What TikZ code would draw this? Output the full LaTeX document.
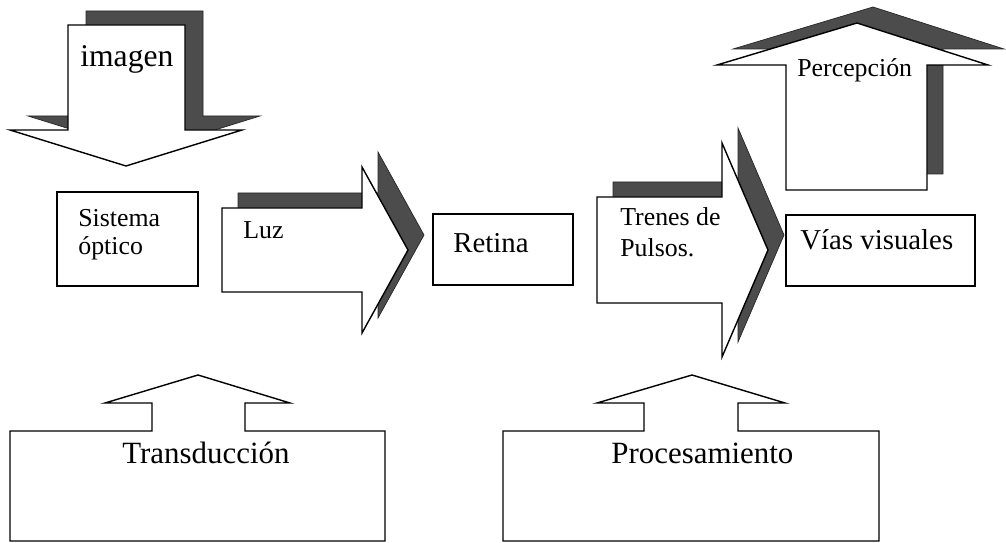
\documentclass[tikz,border=0pt]{standalone}
\usepackage{fontspec}
\setmainfont{Liberation Serif}
\begin{document}
\begin{tikzpicture}[x=0.02cm,y=-0.02cm,
    bloque/.style={draw=black,fill=white,line width=0.8pt},
    sombra/.style={fill=black!70,draw=black!85,line width=0.4pt},
    caja/.style={draw=black,line width=0.8pt,inner sep=0pt},
    chico/.style={font=\fontsize{14.7}{17}\selectfont,inner sep=0pt,anchor=base west,align=left},
    medio/.style={font=\fontsize{16.4}{19}\selectfont,inner sep=0pt,anchor=base west},
    grande/.style={font=\fontsize{17.6}{21}\selectfont,inner sep=0pt,anchor=base west}]
\useasboundingbox (0,0) rectangle (1006,543);

\def\flechaimagen{(68,25) -- (185,25) -- (185,130) -- (242,130) -- (126,166) -- (10,130) -- (68,130) -- cycle}
\def\flechaluz{(222,208) -- (362,208) -- (362,167) -- (408,250) -- (362,333) -- (362,292) -- (222,292) -- cycle}
\def\flechatrenes{(597,197) -- (722,197) -- (722,143) -- (768,250) -- (722,357) -- (722,303) -- (597,303) -- cycle}
\def\flechapercep{(786,190) -- (786,65) -- (717,65) -- (857,23) -- (988,65) -- (927,65) -- (927,190) -- cycle}

\fill[sombra,shift={(18,-14)}] \flechaimagen;
\draw[bloque] \flechaimagen;
\fill[sombra,shift={(16,-15)}] \flechaluz;
\draw[bloque] \flechaluz;
\fill[sombra,shift={(16,-15)}] \flechatrenes;
\draw[bloque] \flechatrenes;
\fill[sombra,shift={(16,-16)}] \flechapercep;
\draw[bloque] \flechapercep;

\node[caja,minimum width=2.82cm,minimum height=1.88cm] (sistema) at (127.5,239) {};
\node[caja,minimum width=2.8cm,minimum height=1.42cm] (retina) at (503,249.5) {};
\node[caja,minimum width=3.78cm,minimum height=1.42cm] (vias) at (880.5,250.5) {};

\draw[bloque] (10,541) -- (10,431) -- (152,431) -- (152,403) -- (105,403) -- (198,375)
    -- (290,403) -- (245,403) -- (245,431) -- (385,431) -- (385,541) -- cycle;
\draw[bloque] (503,541) -- (503,431) -- (644,431) -- (644,403) -- (597,403) -- (692,375)
    -- (785,403) -- (738,403) -- (738,431) -- (879,431) -- (879,541) -- cycle;

\node[grande,font=\fontsize{18}{21}\selectfont] (imagen) at (80,67) {imagen};
\node[chico,font=\fontsize{14.7}{16.5}\selectfont] (tsistema) at (78,255) {Sistema\\óptico};
\node[chico] (luz) at (243,239) {Luz};
\node[medio] (tretina) at (453,253) {Retina};
\node[chico,font=\fontsize{14.7}{18}\selectfont] (trenes) at (620,257) {Trenes de\\Pulsos.};
\node[chico] (percepcion) at (797,77) {Percepción};
\node[medio] (tvias) at (800,250) {Vías visuales};
\node[grande] (transduccion) at (122,463) {Transducción};
\node[grande] (procesamiento) at (611,463) {Procesamiento};
\end{tikzpicture}
\end{document}
